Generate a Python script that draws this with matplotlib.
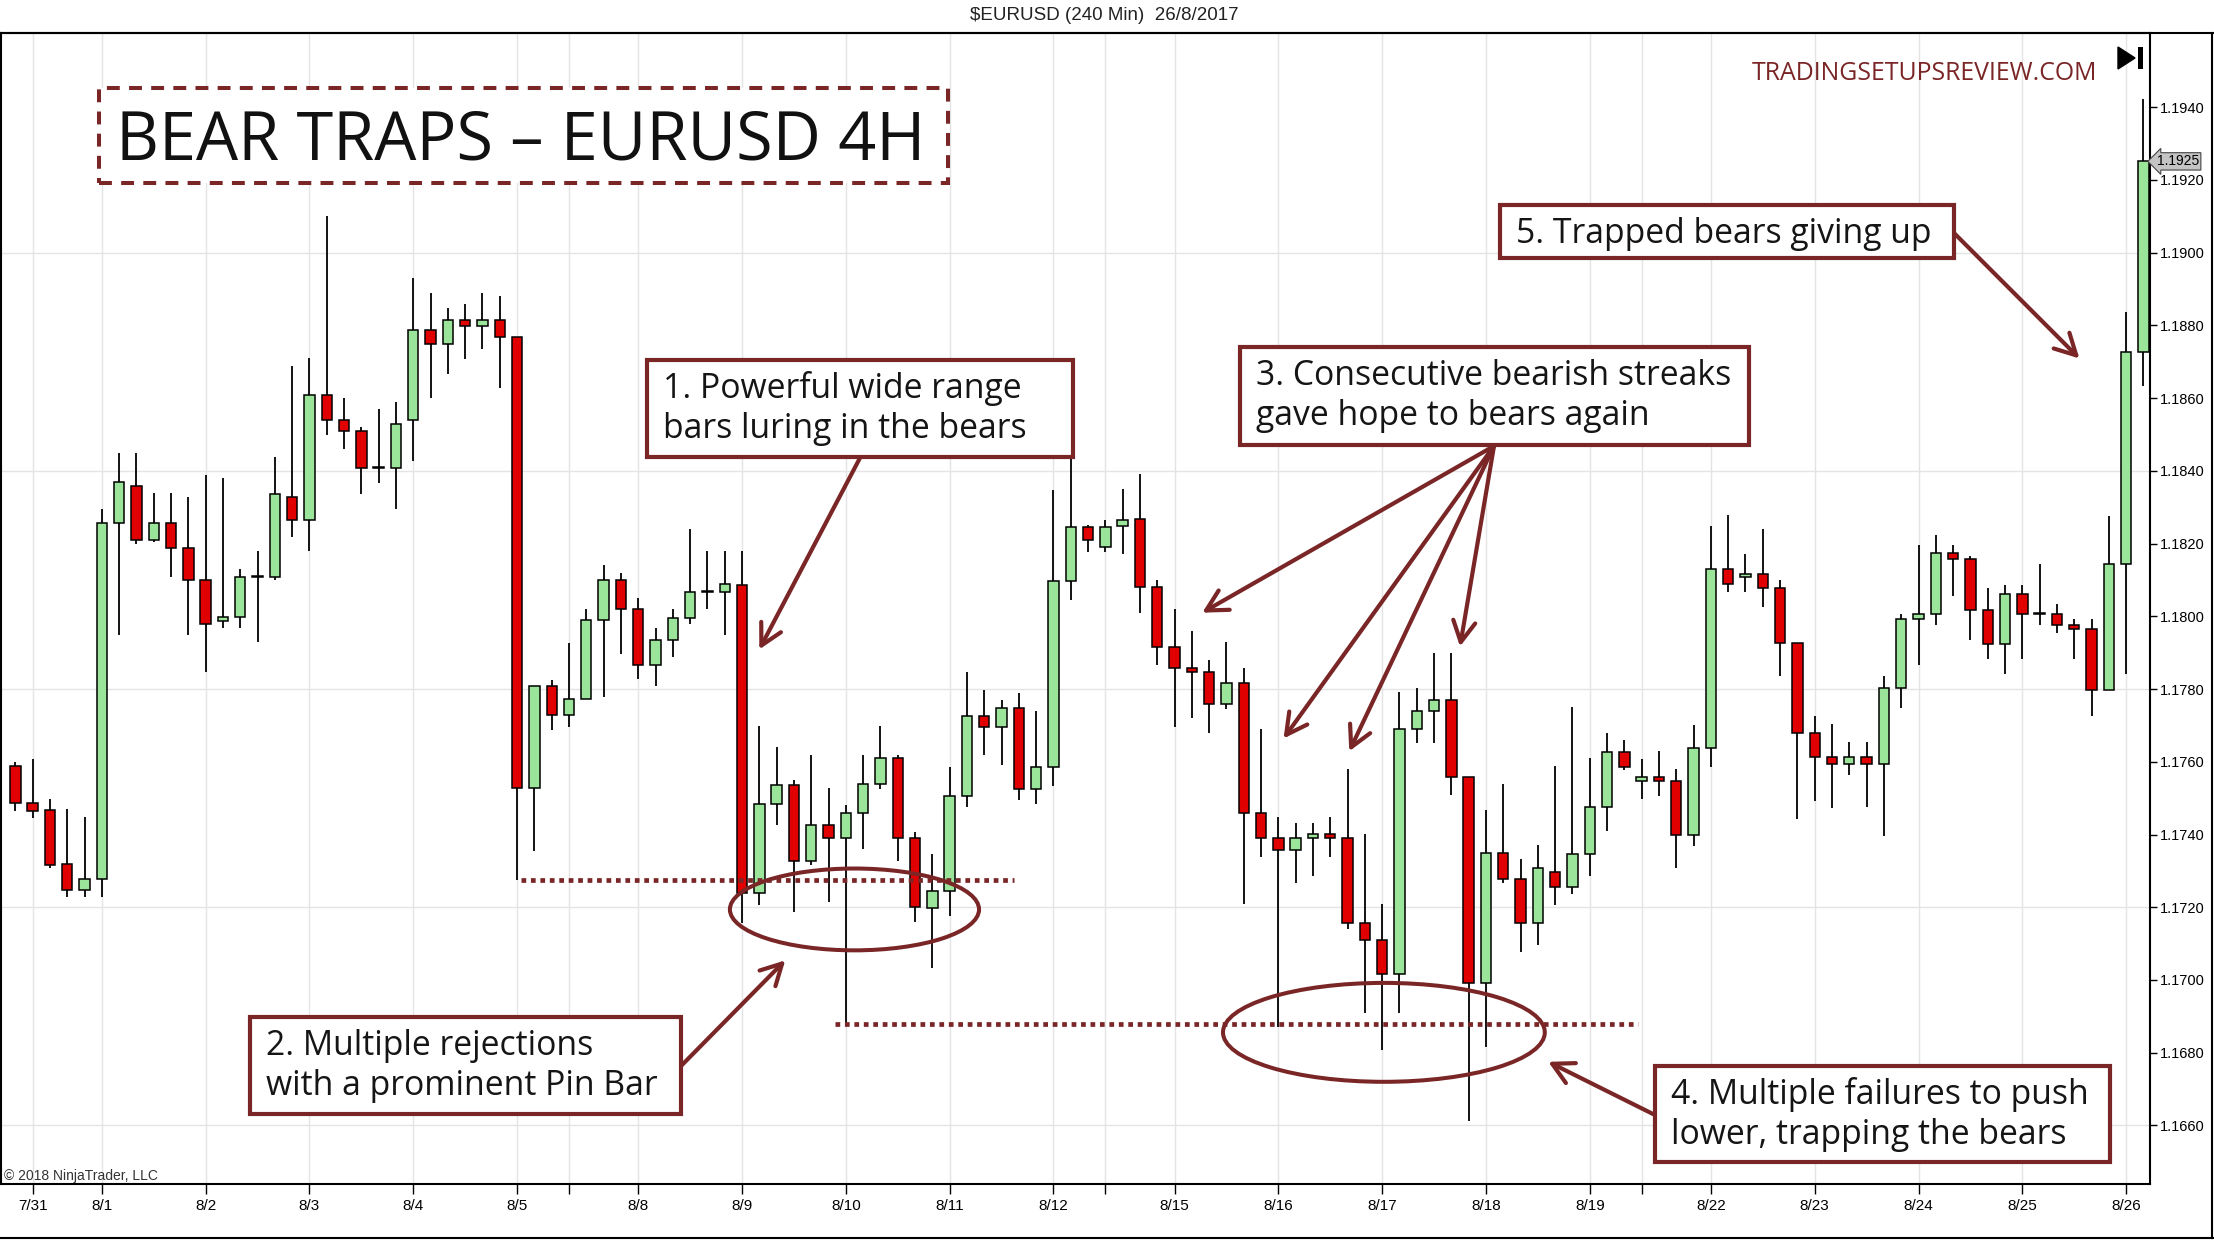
import matplotlib
matplotlib.use('Agg')
import matplotlib.pyplot as plt
import matplotlib.patches as patches
import matplotlib.transforms as mtransforms
import numpy as np

# 4H EURUSD candles
opens = [1.17589, 1.17487, 1.17467, 1.17319, 1.17247, 1.17279, 1.18256, 1.18359, 1.18209, 1.18256,
         1.18189, 1.18099, 1.17988, 1.17999, 1.18109, 1.18109, 1.18327, 1.18265, 1.18609, 1.18540,
         1.18509, 1.18408, 1.18408, 1.18540, 1.18788, 1.18748, 1.18816, 1.18799, 1.18816, 1.18768,
         1.17527, 1.17809, 1.17729, 1.17772, 1.17989, 1.18099, 1.18019, 1.17867, 1.17936, 1.17996,
         1.18068, 1.18068, 1.18087, 1.17239, 1.17484, 1.17537, 1.17328, 1.17426, 1.17390, 1.17459,
         1.17539, 1.17610, 1.17390, 1.17197, 1.17246, 1.17506, 1.17727, 1.17696, 1.17749, 1.17525,
         1.17586, 1.18098, 1.18245, 1.18191, 1.18249, 1.18268, 1.18080, 1.17917, 1.17858, 1.17848,
         1.17760, 1.17817, 1.17459, 1.17391, 1.17358, 1.17391, 1.17402, 1.17391, 1.17158, 1.17109,
         1.17017, 1.17689, 1.17741, 1.17770, 1.17559, 1.16991, 1.17349, 1.17279, 1.17158, 1.17297,
         1.17257, 1.17347, 1.17476, 1.17628, 1.17547, 1.17558, 1.17547, 1.17400, 1.17639, 1.18129,
         1.18108, 1.18116, 1.18079, 1.17926, 1.17679, 1.17613, 1.17595, 1.17613, 1.17595, 1.17804,
         1.17994, 1.18006, 1.18175, 1.18157, 1.18017, 1.17924, 1.18060, 1.18006, 1.18006, 1.17975,
         1.17964, 1.17797, 1.18143, 1.18727]
highs = [1.17599, 1.17609, 1.17497, 1.17469, 1.17448, 1.18296, 1.18449, 1.18449, 1.18339, 1.18339,
         1.18329, 1.18389, 1.18379, 1.18129, 1.18180, 1.18439, 1.18689, 1.18709, 1.19100, 1.18600,
         1.18520, 1.18569, 1.18589, 1.18929, 1.18889, 1.18849, 1.18860, 1.18889, 1.18880, 1.18768,
         1.17809, 1.17825, 1.17927, 1.18019, 1.18140, 1.18120, 1.18049, 1.17967, 1.18019, 1.18240,
         1.18180, 1.18180, 1.18179, 1.17699, 1.17641, 1.17549, 1.17619, 1.17528, 1.17480, 1.17619,
         1.17699, 1.17619, 1.17408, 1.17347, 1.17586, 1.17848, 1.17798, 1.17770, 1.17789, 1.17739,
         1.18347, 1.18445, 1.18250, 1.18266, 1.18349, 1.18391, 1.18099, 1.18020, 1.17961, 1.17879,
         1.17930, 1.17858, 1.17689, 1.17449, 1.17431, 1.17431, 1.17449, 1.17581, 1.17401, 1.17209,
         1.17792, 1.17802, 1.17898, 1.17898, 1.17559, 1.17468, 1.17539, 1.17332, 1.17371, 1.17589,
         1.17751, 1.17611, 1.17679, 1.17660, 1.17608, 1.17629, 1.17579, 1.17700, 1.18249, 1.18279,
         1.18172, 1.18239, 1.18100, 1.17926, 1.17725, 1.17704, 1.17655, 1.17655, 1.17836, 1.18006,
         1.18196, 1.18223, 1.18196, 1.18166, 1.18077, 1.18086, 1.18086, 1.18143, 1.18034, 1.17994,
         1.17994, 1.18275, 1.18838, 1.19423]
lows = [1.17465, 1.17445, 1.17307, 1.17227, 1.17229, 1.17227, 1.17948, 1.18200, 1.18203, 1.18109,
        1.17948, 1.17847, 1.17969, 1.17969, 1.17929, 1.18099, 1.18219, 1.18179, 1.18499, 1.18459,
        1.18336, 1.18367, 1.18296, 1.18427, 1.18600, 1.18665, 1.18707, 1.18736, 1.18627, 1.17276,
        1.17356, 1.17687, 1.17696, 1.17772, 1.17779, 1.17896, 1.17827, 1.17809, 1.17887, 1.17979,
        1.18019, 1.17948, 1.17156, 1.17205, 1.17426, 1.17187, 1.17316, 1.17215, 1.16880, 1.17359,
        1.17525, 1.17328, 1.17159, 1.17034, 1.17175, 1.17475, 1.17619, 1.17591, 1.17496, 1.17484,
        1.17533, 1.18046, 1.18178, 1.18178, 1.18172, 1.18009, 1.17866, 1.17696, 1.17720, 1.17679,
        1.17745, 1.17209, 1.17337, 1.16870, 1.17267, 1.17286, 1.17337, 1.17139, 1.16908, 1.16808,
        1.16908, 1.17651, 1.17651, 1.17508, 1.16613, 1.16817, 1.17268, 1.17076, 1.17097, 1.17207,
        1.17237, 1.17286, 1.17411, 1.17577, 1.17497, 1.17507, 1.17307, 1.17368, 1.17587, 1.18068,
        1.18068, 1.18026, 1.17835, 1.17444, 1.17493, 1.17472, 1.17563, 1.17476, 1.17396, 1.17748,
        1.17866, 1.17976, 1.18057, 1.17936, 1.17883, 1.17842, 1.17883, 1.17976, 1.17955, 1.17883,
        1.17725, 1.17797, 1.17841, 1.18632]
closes = [1.17487, 1.17465, 1.17316, 1.17247, 1.17279, 1.18256, 1.18368, 1.18209, 1.18256, 1.18189,
          1.18099, 1.17979, 1.17999, 1.18109, 1.18109, 1.18336, 1.18265, 1.18609, 1.18540, 1.18509,
          1.18408, 1.18408, 1.18529, 1.18788, 1.18748, 1.18816, 1.18799, 1.18816, 1.18768, 1.17527,
          1.17809, 1.17729, 1.17772, 1.17989, 1.18099, 1.18019, 1.17867, 1.17936, 1.17996, 1.18068,
          1.18068, 1.18089, 1.17239, 1.17484, 1.17537, 1.17328, 1.17426, 1.17390, 1.17459, 1.17539,
          1.17610, 1.17390, 1.17200, 1.17246, 1.17506, 1.17727, 1.17696, 1.17749, 1.17525, 1.17586,
          1.18098, 1.18245, 1.18210, 1.18246, 1.18266, 1.18080, 1.17917, 1.17858, 1.17848, 1.17760,
          1.17817, 1.17459, 1.17391, 1.17358, 1.17391, 1.17402, 1.17391, 1.17158, 1.17109, 1.17017,
          1.17689, 1.17741, 1.17770, 1.17559, 1.16991, 1.17349, 1.17279, 1.17158, 1.17308, 1.17257,
          1.17347, 1.17476, 1.17628, 1.17587, 1.17558, 1.17547, 1.17400, 1.17639, 1.18129, 1.18089,
          1.18116, 1.18079, 1.17926, 1.17679, 1.17613, 1.17595, 1.17613, 1.17595, 1.17804, 1.17994,
          1.18006, 1.18175, 1.18157, 1.18017, 1.17924, 1.18060, 1.18006, 1.18006, 1.17976, 1.17966,
          1.17797, 1.18143, 1.18727, 1.19251]

day_labels = ['7/31', '8/1', '8/2', '8/3', '8/4', '8/5', '8/8', '8/9', '8/10', '8/11', '8/12',
              '8/15', '8/16', '8/17', '8/18', '8/19', '8/22', '8/23', '8/24', '8/25', '8/26']
day_bars = [1, 5, 11, 17, 23, 29, 36, 42, 48, 54, 60, 67, 73, 79, 85, 91, 98, 104, 110, 116, 122]
week_bars = [32, 63, 94]
price_ticks = np.round(np.arange(1.1660, 1.19401, 0.002), 4)
grid_prices = [1.1660, 1.1720, 1.1780, 1.1840, 1.1900]

notes = [
    ['1. Powerful wide range', 'bars luring in the bears'],
    ['2. Multiple rejections', 'with a prominent Pin Bar'],
    ['3. Consecutive bearish streaks', 'gave hope to bears again'],
    ['4. Multiple failures to push', 'lower, trapping the bears'],
    ['5. Trapped bears giving up'],
]

RED = '#e00000'
GREEN = '#9be59b'
DR = '#7a2626'
NT = ['Liberation Sans Narrow', 'Liberation Sans', 'DejaVu Sans']
OS = ['Open Sans', 'DejaVu Sans']

W, H = 2214, 1240
fig = plt.figure(figsize=(W / 100, H / 100), dpi=100)
px = mtransforms.IdentityTransform()


def fy(y):
    # screenshot rows run top-down, figure pixels bottom-up
    return H - y


ax = fig.add_axes([1 / W, 1 - 1184 / H, 2149 / W, (1184 - 33) / H])
ax.set_xlim(-0.83, 123.38)
ax.set_ylim(1.16439, 1.19604)

# grid
for p in grid_prices:
    ax.axhline(p, color='#e4e4e4', lw=1, zorder=0)
for b in day_bars + week_bars:
    ax.axvline(b, color='#e4e4e4', lw=1, zorder=0)

# candles
for i in range(len(opens)):
    o, h, l, c = opens[i], highs[i], lows[i], closes[i]
    ax.vlines(i, l, h, color='black', lw=1.3, zorder=2)
    ax.add_patch(patches.Rectangle((i - 0.3, min(o, c)), 0.6, max(abs(c - o), 0.00002),
                                   facecolor=GREEN if c >= o else RED, edgecolor='black',
                                   lw=1.1, zorder=3))

# axes look
ax.yaxis.tick_right()
ax.set_yticks(price_ticks)
ax.set_yticklabels(['%.4f' % p for p in price_ticks], family=NT, fontsize=10.5)
ax.set_xticks(day_bars)
ax.set_xticklabels(day_labels, family=NT, fontsize=11)
ax.set_xticks(week_bars, minor=True)
ax.tick_params(axis='y', direction='out', length=5, width=1, pad=2)
ax.tick_params(axis='x', which='both', direction='out', length=7, width=1, pad=4)
for s in ax.spines.values():
    s.set_linewidth(1.5)

# last price marker
ax.annotate('%.4f' % closes[-1], xy=(1, closes[-1]), xycoords=('axes fraction', 'data'),
            xytext=(5, 0), textcoords='offset points', va='center', ha='left',
            family=NT, fontsize=10, annotation_clip=False,
            bbox=dict(boxstyle='larrow,pad=0.12', fc='#c4c4c4', ec='#444444', lw=0.8))

# support lines and ellipses
ax.plot([29.2, 57.7], [lows[29], lows[29]], color=DR, lw=3.4, ls=(0, (1, 1)), zorder=4)
ax.plot([47.4, 93.8], [lows[48], lows[48]], color=DR, lw=3.4, ls=(0, (1, 1)), zorder=4)
ax.add_patch(patches.Ellipse((48.5, 1.17194), 14.4, 0.00225, fill=False, ec=DR, lw=2.9, zorder=5))
ax.add_patch(patches.Ellipse((79.1, 1.16856), 18.6, 0.00272, fill=False, ec=DR, lw=2.9, zorder=5))

# note boxes: (left, top, right, bottom) in screenshot pixels
boxes = [(647, 360, 1073, 457), (250, 1017, 681, 1114), (1240, 347, 1749, 445),
         (1655, 1066, 2110, 1162), (1500, 205, 1954, 258)]
for (x0, y0, x1, y1), lines in zip(boxes, notes):
    fig.add_artist(patches.Rectangle((x0, fy(y1)), x1 - x0, y1 - y0, transform=px,
                                     fc='white', ec=DR, lw=3, zorder=6))
    for k, t in enumerate(lines):
        fig.text(x0 + 16, fy(y0 + 38 + 40 * k), t, transform=px, family=OS,
                 fontsize=24.3, color='#151515', va='baseline', zorder=7)

# arrows: tail in screenshot pixels, head at chart position
arrows = [((861, 456), (43.0, 1.17909)),
          ((681, 1066), (44.5, 1.17054)),
          ((1494, 446), (68.6, 1.18010)),
          ((1494, 446), (73.3, 1.17664)),
          ((1494, 446), (77.1, 1.17629)),
          ((1494, 446), (83.5, 1.17917)),
          ((1655, 1115), (88.6, 1.16775)),
          ((1954, 233), (119.3, 1.18709))]
for (tx, ty), head in arrows:
    ax.annotate('', xy=head, xycoords='data', xytext=(tx, fy(ty)), textcoords='figure pixels',
                annotation_clip=False, zorder=5,
                arrowprops=dict(arrowstyle='->,head_length=0.75,head_width=0.4', color=DR,
                                lw=3, shrinkA=0, shrinkB=0, mutation_scale=20))

# headline box
fig.add_artist(patches.Rectangle((99, fy(183)), 849, 95, transform=px, fc='white', ec=DR,
                                 lw=2.9, ls=(0, (3.2, 2.3)), zorder=6))
fig.text(116, fy(160), 'BEAR TRAPS \u2013 EURUSD 4H', transform=px, family=OS, fontsize=48,
         color='#111111', va='baseline', zorder=7)

fig.text(2097, fy(80), 'TRADINGSETUPSREVIEW.COM', transform=px, family=OS, fontsize=17.9,
         color=DR, ha='right', va='baseline')
fig.text(W / 2 - 3, fy(16), '$EURUSD (240 Min)  26/8/2017', transform=px, family=NT,
         fontsize=13.5, color='#222222', ha='center', va='center')
fig.text(4, fy(1180), '\u00a9 2018 NinjaTrader, LLC', transform=px, family=NT, fontsize=10,
         color='#333333', va='baseline')

# "jump to end" icon
fig.add_artist(patches.Polygon([(2118, fy(47)), (2118, fy(69)), (2135, fy(58))], closed=True,
                               transform=px, fc='black', ec='black'))
fig.add_artist(patches.Rectangle((2138, fy(69)), 5, 22, transform=px, fc='black', ec='none'))

# window frame
fig.add_artist(plt.Line2D([0, W], [fy(33), fy(33)], transform=px, color='black', lw=1.5))
fig.add_artist(plt.Line2D([0, W], [fy(1238), fy(1238)], transform=px, color='black', lw=1.5))
fig.add_artist(plt.Line2D([W - 2, W - 2], [fy(33), fy(1238)], transform=px, color='black', lw=1.5))

fig.savefig('out.png', dpi=100, facecolor='white')
